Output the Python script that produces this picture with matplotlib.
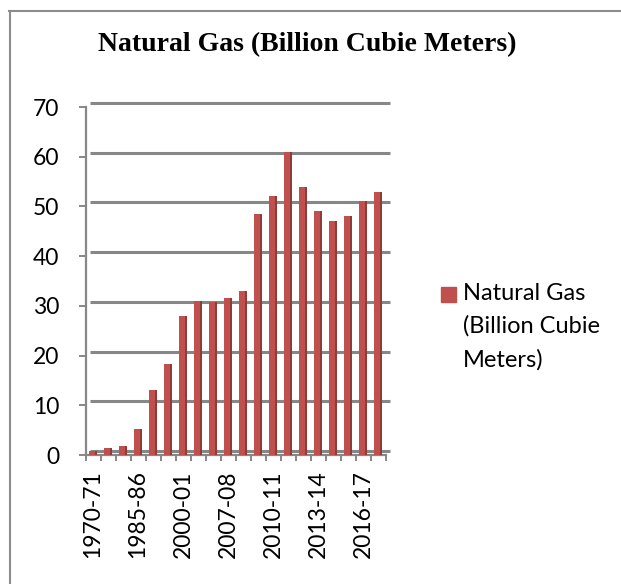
import matplotlib
matplotlib.use('Agg')
import matplotlib.pyplot as plt
import matplotlib.transforms as mtransforms
from matplotlib.patches import Rectangle
from matplotlib.lines import Line2D
import numpy as np

years = ['1970-71', '1975-76', '1980-81', '1985-86', '1990-91', '1995-96',
         '2000-01', '2005-06', '2006-07', '2007-08', '2008-09', '2009-10',
         '2010-11', '2011-12', '2012-13', '2013-14', '2014-15', '2015-16',
         '2016-17', '2017-18']
gas = [0.8, 1.4, 1.8, 5.2, 13.0, 18.3, 28.0, 31.0, 30.8, 31.5, 33.0, 48.5,
       52.0, 61.0, 54.0, 49.0, 47.0, 48.0, 51.0, 53.0]
yticks = [0, 10, 20, 30, 40, 50, 60, 70]
label_every = 3

title = 'Natural Gas (Billion Cubie Meters)'
legend_label = 'Natural Gas\n(Billion Cubie\nMeters)'

front = '#C0504D'
side = '#8E3B39'
axcol = '#878787'

W, H = 621, 584
fig = plt.figure(figsize=(W / 100, H / 100), dpi=100)
fig.patch.set_facecolor('white')

ax = fig.add_axes([85.5 / W, 1 - 455 / H, 300 / W, (455 - 107) / H])
ax.set_xlim(-0.5, len(years) - 0.5)
ax.set_ylim(0, 70)
ax.patch.set_alpha(0)

# back wall gridlines, shifted up/right for the 3d look
shift = mtransforms.ScaledTranslation(4 / 100, 4 / 100, fig.dpi_scale_trans)
for v in yticks:
    ax.plot([-0.5, len(years) - 0.5], [v, v], color=axcol, lw=2.2,
            transform=ax.transData + shift, zorder=1, clip_on=False,
            solid_capstyle='butt')

x = np.arange(len(years))
ax.bar(x + 0.2, gas, width=0.17, color=side, zorder=3, linewidth=0)
ax.bar(x - 0.05, gas, width=0.42, color=front, zorder=4, linewidth=0)

for s in ['top', 'right']:
    ax.spines[s].set_visible(False)
for s in ['left', 'bottom']:
    ax.spines[s].set_color(axcol)
    ax.spines[s].set_linewidth(1.6)

tickfont = 'Lato'
ax.set_yticks(yticks)
ax.set_yticklabels([str(v) for v in yticks], fontsize=16.5, family=tickfont)
ax.tick_params(axis='y', length=4.8, width=1.4, color=axcol, pad=14)

ax.set_xticks(x[::label_every])
ax.set_xticklabels(years[::label_every], rotation=90, fontsize=16.5,
                   family=tickfont)
ax.tick_params(axis='x', which='major', length=0, pad=11)
ax.set_xticks(np.arange(len(years) + 1) - 0.5, minor=True)
ax.tick_params(axis='x', which='minor', length=4.5, width=1.4, color=axcol)

fig.text(307 / W, 1 - 45 / H, title, ha='center', va='center',
         fontsize=20, fontweight='bold', family='Liberation Serif')

# legend
fig.patches.append(Rectangle((441 / W, 1 - 302 / H), 15 / W, 15 / H,
                             transform=fig.transFigure, color=front))
fig.text(463 / W, 1 - 283 / H, legend_label, ha='left', va='top',
         fontsize=17, family=tickfont, linespacing=1.66)

# chart frame
fig.add_artist(Line2D([10 / W, 10 / W], [-0.1, 1 - 11 / H], color='#8C8C8C',
                      lw=1.5, transform=fig.transFigure))
fig.add_artist(Line2D([9 / W, 1.1], [1 - 11 / H, 1 - 11 / H], color='#8C8C8C',
                      lw=1.5, transform=fig.transFigure))

fig.savefig('out.png', dpi=100)
